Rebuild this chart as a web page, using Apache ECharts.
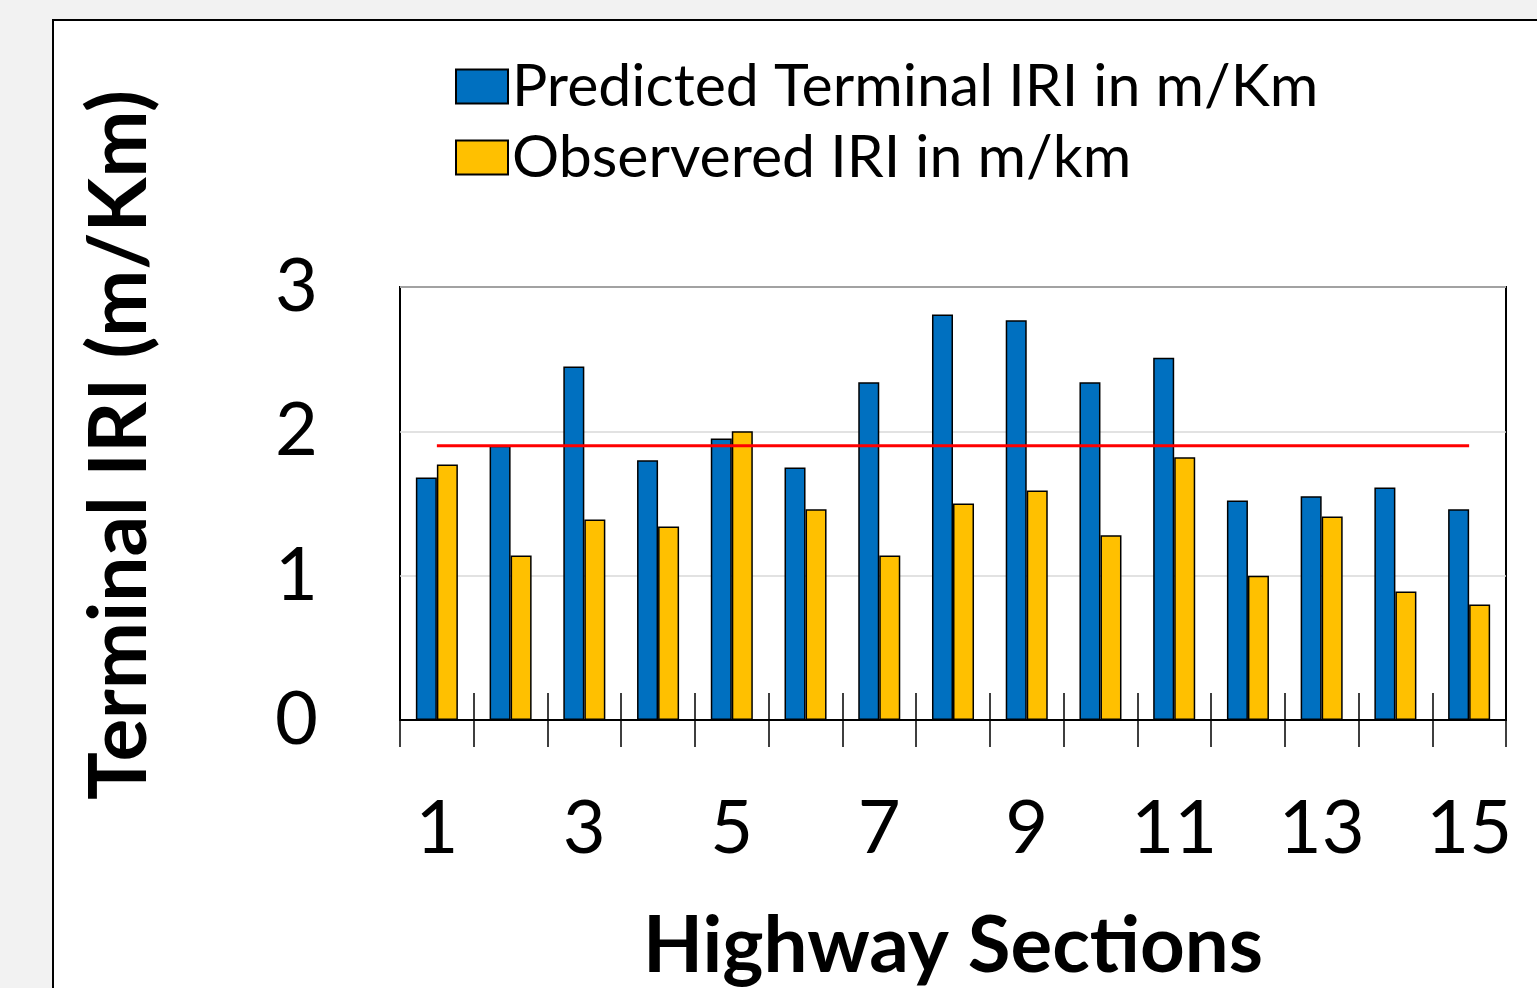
<!DOCTYPE html>
<html>
<head>
<meta charset="utf-8">
<script src="https://cdn.jsdelivr.net/npm/echarts@6/dist/echarts.min.js"></script>
<style>
html,body{margin:0;padding:0;background:#f2f2f2;}
#c{width:1537px;height:988px;}
</style>
</head>
<body>
<div id="c"></div>
<script>
const categories = ['1','2','3','4','5','6','7','8','9','10','11','12','13','14','15'];
const predicted = [1.68,1.90,2.45,1.80,1.95,1.75,2.34,2.81,2.77,2.34,2.51,1.52,1.55,1.61,1.46];
const observed  = [1.77,1.14,1.39,1.34,2.00,1.46,1.14,1.50,1.59,1.28,1.82,1.00,1.41,0.89,0.80];
const threshold = 1.9;
const yTicks = {min:0, max:3, interval:1};

const FONT = 'Lato, Carlito, "Open Sans", sans-serif';
const chart = echarts.init(document.getElementById('c'));
chart.setOption({
  backgroundColor: 'transparent',
  animation: false,
  textStyle: {fontFamily: FONT, color: '#000'},
  graphic: [
    {type:'rect', shape:{x:53, y:20, width:1600, height:1100}, style:{fill:'#fff', stroke:'#000', lineWidth:2}, z:-10},
    {type:'text', x:120, y:445, rotation: Math.PI/2,
     style:{text:'Terminal IRI (m/Km)', font:'bold 80px ' + FONT, fill:'#000', textAlign:'center', textVerticalAlign:'middle'}}
  ],
  legend: {
    orient:'vertical', left:455, top:57, padding:0,
    itemWidth:52, itemHeight:34, itemGap:12, icon:'rect',
    data:['Predicted Terminal IRI in m/Km','Observered IRI in m/km'],
    textStyle:{fontSize:59, fontFamily:FONT, color:'#000', padding:[0,0,0,-1]}
  },
  grid: {left:400, right:31, top:287, bottom:268, show:true, borderColor:'#000', borderWidth:2,
         backgroundColor:'transparent', containLabel:false, outerBoundsMode:'none'},
  xAxis: [{
    type:'category', data:categories,
    axisLine:{show:true, lineStyle:{color:'#000', width:2}},
    axisTick:{show:true, interval:0, length:27, lineStyle:{color:'#000', width:1.5}},
    axisLabel:{interval:1, fontSize:74, color:'#000', margin:72, fontFamily:FONT},
    name:'Highway Sections', nameLocation:'middle', nameGap:188,
    nameTextStyle:{fontSize:78, fontWeight:'bold', color:'#000', fontFamily:FONT}
  },{
    type:'category', data:categories, position:'bottom',
    axisLine:{show:false},
    axisTick:{show:true, inside:true, interval:0, length:27, lineStyle:{color:'#000', width:1.5}},
    axisLabel:{show:false}
  }],
  yAxis: {
    type:'value', min:yTicks.min, max:yTicks.max, interval:yTicks.interval,
    axisLine:{show:false}, axisTick:{show:false},
    axisLabel:{fontSize:74, color:'#000', margin:82, fontFamily:FONT},
    splitLine:{show:true, lineStyle:{color:'#d9d9d9', width:1.5}}
  },
  series: [
    {name:'Predicted Terminal IRI in m/Km', type:'bar', data:predicted, barGap:'0%', barCategoryGap:'43%',
     itemStyle:{color:'#0070c0', borderColor:'#000', borderWidth:1.5}},
    {name:'Observered IRI in m/km', type:'bar', data:observed, barGap:'0%', barCategoryGap:'43%',
     itemStyle:{color:'#ffc000', borderColor:'#000', borderWidth:1.5}},
    {name:'threshold', type:'line', data:categories.map(()=>threshold), symbol:'none', z:5,
     lineStyle:{color:'#ff0000', width:3}, silent:true}
  ]
});
</script>
</body>
</html>
